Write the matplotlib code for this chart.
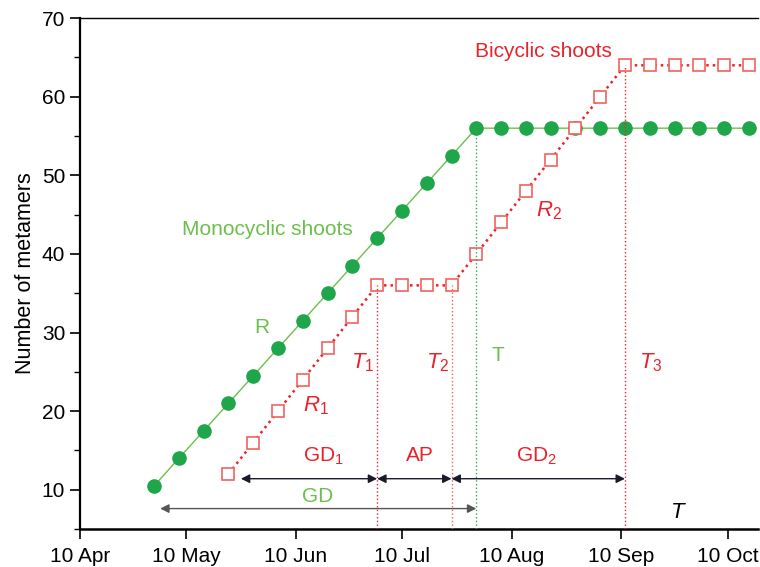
import matplotlib
matplotlib.use('Agg')
import matplotlib.pyplot as plt
import matplotlib.dates as mdates
import pandas as pd

plt.rcParams['font.family'] = ['Liberation Sans', 'DejaVu Sans']
plt.rcParams['mathtext.fontset'] = 'custom'
plt.rcParams['mathtext.rm'] = 'Liberation Sans'
plt.rcParams['mathtext.it'] = 'Liberation Sans:italic'

# weekly observation dates
dates = pd.to_datetime([
    '2001-05-01', '2001-05-08', '2001-05-15', '2001-05-22', '2001-05-29',
    '2001-06-05', '2001-06-12', '2001-06-19', '2001-06-26', '2001-07-03',
    '2001-07-10', '2001-07-17', '2001-07-24', '2001-07-31', '2001-08-07',
    '2001-08-14', '2001-08-21', '2001-08-28', '2001-09-04', '2001-09-11',
    '2001-09-18', '2001-09-25', '2001-10-02', '2001-10-09', '2001-10-16'])
mono = [10.5, 14, 17.5, 21, 24.5, 28, 31.5, 35, 38.5, 42, 45.5, 49, 52.5, 56,
        56, 56, 56, 56, 56, 56, 56, 56, 56, 56, 56]
bi_dates = dates[3:]
bi = [12, 16, 20, 24, 28, 32, 36, 36, 36, 36, 40, 44, 48, 52, 56, 60,
      64, 64, 64, 64, 64, 64]

tick_dates = pd.to_datetime(['2001-04-10', '2001-05-10', '2001-06-10', '2001-07-10',
                             '2001-08-10', '2001-09-10', '2001-10-10'])
T1, T2, T, T3 = pd.to_datetime(['2001-07-03', '2001-07-24', '2001-07-31', '2001-09-11'])

GREEN = '#1fa64a'
LGREEN = '#6cbf4c'
RED = '#e8232a'
LRED = '#f0625c'

base = pd.Timestamp('2001-04-10')
def day(n):
    return base + pd.Timedelta(days=n)

fig, ax = plt.subplots(figsize=(7.6, 5.67), dpi=100)
fig.subplots_adjust(left=0.105, right=0.997, top=0.968, bottom=0.067)

# vertical markers
ax.plot([T1, T1], [5, 36], color=RED, ls=':', lw=1.0, zorder=5)
ax.plot([T2, T2], [5, 36], color=LRED, ls=':', lw=1.0, zorder=5)
ax.plot([T, T], [5, 56], color='#3aa64a', ls=':', lw=1.0, zorder=5)
ax.plot([T3, T3], [5, 64], color=RED, ls=':', lw=1.0, zorder=5)

ax.plot(dates, mono, color=LGREEN, lw=1.0, marker='o', ms=9.5,
        mfc=GREEN, mec=GREEN, zorder=3)
ax.plot(bi_dates, bi, color=RED, ls=(0, (1, 1.6)), lw=1.8, zorder=2)
ax.plot(bi_dates, bi, ls='none', marker='s', ms=8.5, mfc='white',
        mec=LRED, mew=1.2, zorder=4)

# arrows
def arrow(x0, x1, y, color='#1a1a2a'):
    ax.annotate('', xy=(x1, y), xytext=(x0, y),
                arrowprops=dict(arrowstyle='<|-|>', color=color, lw=1.0,
                                mutation_scale=13, shrinkA=0, shrinkB=0))

arrow(day(45.5), T1, 11.4)
arrow(T1, T2, 11.4)
arrow(T2, T3, 11.4)
arrow(day(22.7), T, 7.6, color='#555555')

fs = 15
ax.text(day(131), 65.7, 'Bicyclic shoots', color=RED, fontsize=fs, ha='center', va='center')
ax.text(day(53), 43.1, 'Monocyclic shoots', color=LGREEN, fontsize=fs, ha='center', va='center')
ax.text(day(51.5), 30.6, 'R', color=LGREEN, fontsize=fs, ha='center', va='center')
ax.text(day(66.7), 20.7, r'$\mathit{R}_1$', color=RED, fontsize=16, ha='center', va='center')
ax.text(day(132.6), 45.5, r'$\mathit{R}_2$', color=RED, fontsize=16, ha='center', va='center')
ax.text(day(80), 26.2, r'$\mathit{T}_1$', color=RED, fontsize=16, ha='center', va='center')
ax.text(day(101), 26.2, r'$\mathit{T}_2$', color=RED, fontsize=16, ha='center', va='center')
ax.text(day(118), 27.1, 'T', color=LGREEN, fontsize=fs, ha='center', va='center')
ax.text(day(161.2), 26.2, r'$\mathit{T}_3$', color=RED, fontsize=16, ha='center', va='center')
ax.text(day(68.7), 14.3, r'GD$_1$', color=RED, fontsize=fs, ha='center', va='center')
ax.text(day(96.2), 14.3, 'AP', color=RED, fontsize=fs, ha='center', va='center')
ax.text(day(129), 14.3, r'GD$_2$', color=RED, fontsize=fs, ha='center', va='center')
ax.text(day(67.3), 9.2, 'GD', color=LGREEN, fontsize=fs, ha='center', va='center')
ax.text(day(169), 7.1, r'$\mathit{T}$', color='black', fontsize=16, ha='center', va='center')

ax.set_xlim(base, day(191.5))
ax.set_ylim(5, 70)
ax.set_xticks(tick_dates)
ax.xaxis.set_major_formatter(mdates.DateFormatter('%d %b'))
ax.set_yticks(range(10, 71, 10))
ax.set_yticks(range(5, 71, 5), minor=True)
ax.tick_params(axis='both', which='major', labelsize=15, direction='out', length=7, width=1.2)
ax.tick_params(axis='x', which='major', pad=6)
ax.tick_params(axis='y', which='minor', direction='out', length=4, width=1.0)
ax.set_ylabel('Number of metamers', fontsize=15.5, labelpad=4)

ax.spines['right'].set_visible(False)
ax.spines['left'].set_linewidth(1.6)
ax.spines['bottom'].set_linewidth(1.8)
ax.spines['top'].set_linewidth(1.0)

fig.savefig('out.png', dpi=100)
